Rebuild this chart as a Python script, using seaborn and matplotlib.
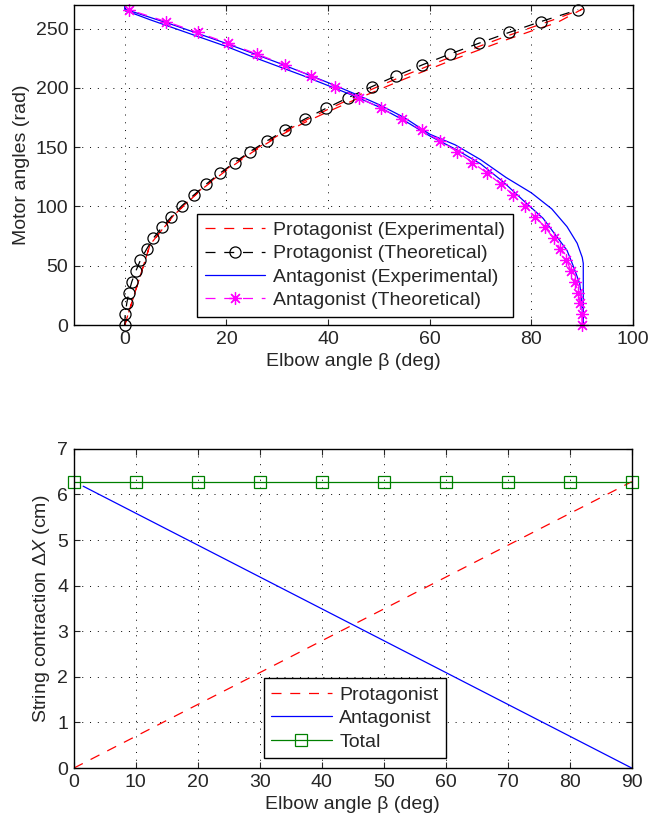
import matplotlib
matplotlib.use("Agg")
import matplotlib.pyplot as plt
import seaborn as sns

# ---- data: top panel (elbow angle beta vs motor angle theta) ----
# theoretical points, sampled at the same motor angles
theta_theo = [0, 9.1, 18.3, 27.4, 36.6, 45.7, 54.8, 64.0, 73.1, 82.3,
              91.4, 100.5, 109.7, 118.8, 128.0, 137.1, 146.2, 155.4, 164.5, 173.7,
              182.8, 191.9, 201.1, 210.2, 219.4, 228.5, 237.6, 246.8, 255.9, 266.0]
beta_pro_theo = [0, 0.1, 0.4, 0.8, 1.4, 2.2, 3.1, 4.3, 5.6, 7.3,
                 9.2, 11.2, 13.6, 16.0, 18.7, 21.6, 24.6, 28.0, 31.6, 35.4,
                 39.6, 44.0, 48.6, 53.4, 58.5, 63.9, 69.6, 75.6, 81.8, 89.2]
beta_ant_theo = [90, 89.9, 89.6, 89.2, 88.6, 87.8, 86.9, 85.7, 84.4, 82.7,
                 80.8, 78.8, 76.4, 74.0, 71.3, 68.4, 65.4, 62.0, 58.4, 54.6,
                 50.4, 46.0, 41.4, 36.6, 31.5, 26.1, 20.4, 14.4, 8.2, 0.8]

# experimental protagonist: up and back (small hysteresis loop)
beta_pro_exp = [0, 5, 10, 15, 20, 25, 30, 35, 40, 45, 50, 55, 60, 65, 70, 75, 80, 85, 90,
                85, 80, 75, 70, 65, 60, 55, 50, 45, 40, 35, 30, 25, 20, 15, 10, 5, 0]
theta_pro_exp = [0, 68, 94.5, 114.5, 131.5, 146.5, 159.5, 171.5, 182, 192, 201.5, 210.5,
                 219, 227.5, 235.5, 243.5, 251, 258.5, 266.5,
                 255, 248, 240.5, 232.5, 224.5, 216, 207.5, 198.5, 189.5, 180, 170,
                 158.5, 145.5, 130.5, 114, 94, 68, 0]

# experimental antagonist: down along the outer curve, back up the inner one
beta_ant_exp = [0, 0, 5, 10, 15, 20, 25, 30, 35, 40, 45, 50, 55, 60, 65, 70, 75, 80,
                84, 87, 89, 90, 90.2, 90.2,
                90, 89.8, 89.5, 88.3, 87, 85, 82.3, 78.3, 74.4, 70, 65, 60, 55, 50,
                45, 40, 35, 30, 25, 20, 15, 10, 5, 0]
theta_ant_exp = [269.5, 266.5, 259.5, 252.5, 245, 237.5, 229.5, 221.5, 213, 204.5,
                 195.5, 186, 175, 161, 152, 139.5, 124.5, 111.5, 98, 83, 69, 57, 52, 0,
                 12, 24, 35, 49, 63, 74.5, 90, 105.5, 121, 136, 148.5, 159.5, 172.5,
                 184, 193.5, 202, 210.5, 218.5, 226.5, 235, 242.5, 250, 257.5, 265.5]

# ---- data: bottom panel (string contraction vs elbow angle) ----
beta_line = [0, 90]
contr_pro = [0, 6.28]
beta_ant_line = [1.5, 90]
contr_ant = [6.18, 0]
beta_total = [0, 10, 20, 30, 40, 50, 60, 70, 80, 90]
contr_total = [6.28] * 10

sns.set_theme(style="ticks")
plt.rcParams['font.family'] = ['Liberation Sans', 'DejaVu Sans']
plt.rcParams['mathtext.fontset'] = 'custom'
plt.rcParams['mathtext.rm'] = 'Liberation Sans'
plt.rcParams['mathtext.it'] = 'Liberation Sans:italic'
FS = 14

fig = plt.figure(figsize=(6.48, 8.25), dpi=100)
ax1 = fig.add_axes([0.114, 0.606, 0.863, 0.388])
ax2 = fig.add_axes([0.114, 0.069, 0.861, 0.387])

dash = (0, (8, 7))
asterisk = (8, 2, 0)

# top panel
sns.lineplot(x=beta_pro_exp, y=theta_pro_exp, ax=ax1, sort=False, estimator=None,
             color='red', lw=0.9, linestyle=dash, label='Protagonist (Experimental)')
sns.lineplot(x=beta_pro_theo, y=theta_theo, ax=ax1, sort=False, estimator=None,
             color='black', lw=0.9, linestyle=dash, marker='o', markersize=8,
             markerfacecolor='none', markeredgecolor='black', markeredgewidth=0.9,
             clip_on=False, label='Protagonist (Theoretical)')
sns.lineplot(x=beta_ant_exp, y=theta_ant_exp, ax=ax1, sort=False, estimator=None,
             color='blue', lw=0.9, label='Antagonist (Experimental)')
sns.lineplot(x=beta_ant_theo, y=theta_theo, ax=ax1, sort=False, estimator=None,
             color='magenta', lw=0.9, linestyle=dash, marker=asterisk, markersize=9,
             markeredgecolor='magenta', markeredgewidth=0.9, clip_on=False,
             label='Antagonist (Theoretical)')

ax1.set_xlim(-10, 100)
ax1.set_ylim(0, 270)
ax1.set_xticks([0, 20, 40, 60, 80, 100])
ax1.set_yticks([0, 50, 100, 150, 200, 250])
ax1.set_xlabel('Elbow angle β (deg)', fontsize=FS)
ax1.set_ylabel('Motor angles (rad)', fontsize=FS)
ax1.legend(loc='lower left', bbox_to_anchor=(0.22, 0.025), fontsize=FS,
           handlelength=3.1, handletextpad=0.4, labelspacing=0.3, borderaxespad=0,
           fancybox=False, framealpha=1, edgecolor='black', numpoints=1)

# bottom panel
sns.lineplot(x=beta_line, y=contr_pro, ax=ax2, color='red', lw=0.9, linestyle=dash,
             label='Protagonist')
sns.lineplot(x=beta_ant_line, y=contr_ant, ax=ax2, color='blue', lw=0.9,
             label='Antagonist')
sns.lineplot(x=beta_total, y=contr_total, ax=ax2, color=(0, 0.5, 0), lw=0.9,
             marker='s', markersize=8, markerfacecolor='none', clip_on=False,
             markeredgecolor=(0, 0.5, 0), markeredgewidth=0.9, label='Total')

ax2.set_xlim(0, 90)
ax2.set_ylim(0, 7)
ax2.set_xticks(range(0, 91, 10))
ax2.set_yticks(range(0, 8))
ax2.set_xlabel('Elbow angle β (deg)', fontsize=FS)
ax2.set_ylabel(r'String contraction Δ$\it{X}$ (cm)', fontsize=FS)
ax2.legend(loc='lower left', bbox_to_anchor=(0.34, 0.03), fontsize=FS,
           handlelength=3.1, handletextpad=0.4, labelspacing=0.3, borderaxespad=0,
           fancybox=False, framealpha=1, edgecolor='black', numpoints=1)

for ax in (ax1, ax2):
    ax.grid(True, color='black', linestyle=(0, (1, 7)), lw=0.7)
    ax.tick_params(direction='in', top=True, right=True, labelsize=FS,
                   length=4, width=0.8, pad=4)
    for s in ax.spines.values():
        s.set_linewidth(1.0)
        s.set_color('black')
    ax.legend_.get_frame().set_linewidth(1.0)
    ax.set_axisbelow(True)

fig.savefig('out.png', dpi=100)
